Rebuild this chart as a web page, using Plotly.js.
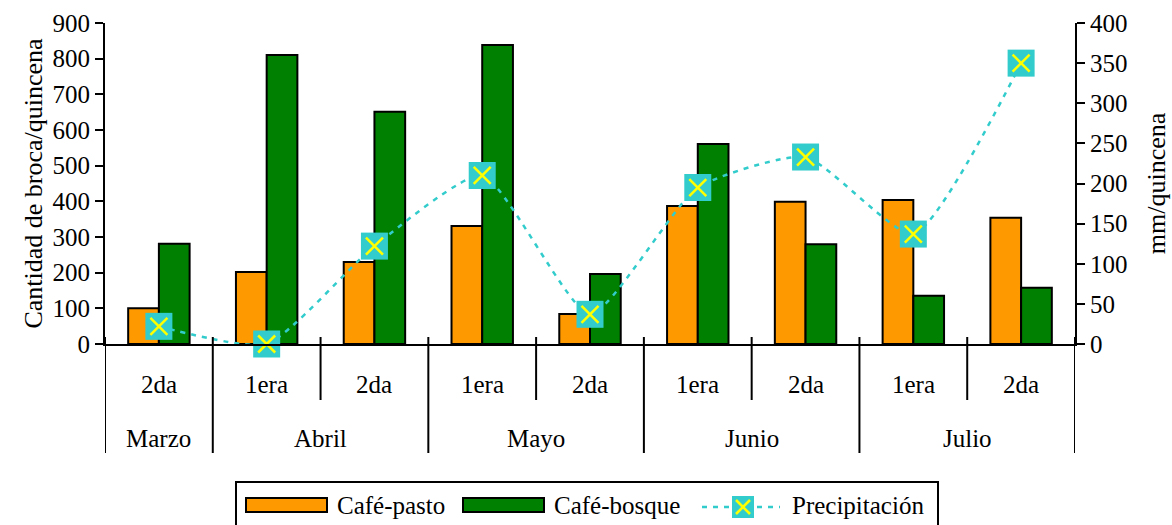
<!DOCTYPE html>
<html>
<head>
<meta charset="utf-8">
<script src="https://cdn.plot.ly/plotly-3.0.1.min.js"></script>
<style>html,body{margin:0;padding:0;background:#fff;}#chart{width:1172px;height:525px;}</style>
</head>
<body>
<div id="chart"></div>
<script>
const months = ["Marzo","Abril","Abril","Mayo","Mayo","Junio","Junio","Julio","Julio"];
const quincenas = ["2da","1era","2da","1era","2da","1era","2da","1era","2da"];
const cafePasto = [100, 202, 230, 331, 84, 387, 399, 404, 354];
const cafeBosque = [281, 810, 651, 838, 196, 561, 280, 135, 158];
const precipitacion = [22, 0, 122, 210, 37, 195, 233, 137, 350];
const leftTicks = [0,100,200,300,400,500,600,700,800,900];
const rightTicks = [0,50,100,150,200,250,300,350,400];
const seriesNames = ["Café-pasto","Café-bosque","Precipitación"];

const W = 1172, H = 525, ML = 105, MR = 97, MT = 23, MB = 181;
const PW = W - ML - MR, PH = H - MT - MB;
const px = v => (v - ML) / PW;          // pixel -> paper x
const py = v => (H - MB - v) / PH;      // pixel -> paper y

const idx = months.map((m,i)=>i);
const FONT = "Liberation Serif, Times New Roman, serif";
const ORANGE = '#FF9900', GREEN = '#008000', CYAN = '#33CCCC', YELLOW = '#FFFF00';

const traces = [
  {type:'bar', name:seriesNames[0], x:idx, y:cafePasto,
   marker:{color:ORANGE, line:{color:'#000', width:2}}},
  {type:'bar', name:seriesNames[1], x:idx, y:cafeBosque,
   marker:{color:GREEN, line:{color:'#000', width:2}}},
  {type:'scatter', mode:'lines+markers', name:seriesNames[2], x:idx, y:precipitacion, yaxis:'y2',
   line:{color:CYAN, width:2.5, dash:'5px,6px', shape:'spline', smoothing:0.55},
   marker:{symbol:'square', size:27, color:CYAN, line:{width:0}}, cliponaxis:false},
  {type:'scatter', mode:'markers', showlegend:false, x:idx, y:precipitacion, yaxis:'y2', hoverinfo:'skip',
   marker:{symbol:'x-thin', size:17, color:YELLOW, line:{color:YELLOW, width:2.5}}, cliponaxis:false}
];

const shapes = [];
const annotations = [];
const n = months.length;
// category dividers
for (let b = 0; b <= n; b++) {
  const xb = b - 0.5;
  const outer = (b === 0 || b === n || months[b] !== months[b-1]);
  shapes.push({type:'line', xref:'x', yref:'paper', x0:xb, x1:xb,
    y0: py(337), y1: outer ? py(453) : py(400), line:{color:'#000', width:2}});
}
quincenas.forEach((q,i)=>{
  annotations.push({xref:'x', yref:'paper', x:i, y:py(385), text:q, showarrow:false,
    yanchor:'middle', font:{family:FONT, size:25, color:'#000'}});
});
const seen = [];
months.forEach(m=>{ if(!seen.includes(m)) seen.push(m); });
seen.forEach(m=>{
  const ii = idx.filter(i=>months[i]===m);
  const c = ii.reduce((a,b)=>a+b,0)/ii.length;
  annotations.push({xref:'x', yref:'paper', x:c, y:py(438), text:m, showarrow:false,
    yanchor:'middle', font:{family:FONT, size:25, color:'#000'}});
});

// legend (drawn manually to match the reference look)
const P = {xref:'paper', yref:'paper'};
shapes.push(Object.assign({type:'rect', x0:px(236), x1:px(938), y0:py(482), y1:py(532),
  line:{color:'#000', width:2}, fillcolor:'rgba(0,0,0,0)'}, P));
shapes.push(Object.assign({type:'rect', x0:px(246), x1:px(327), y0:py(498), y1:py(512),
  line:{color:'#000', width:2}, fillcolor:ORANGE}, P));
shapes.push(Object.assign({type:'rect', x0:px(463), x1:px(544), y0:py(498), y1:py(512),
  line:{color:'#000', width:2}, fillcolor:GREEN}, P));
shapes.push(Object.assign({type:'line', x0:px(702), x1:px(780), y0:py(507), y1:py(507),
  line:{color:CYAN, width:2.5, dash:'5px,6px'}}, P));
shapes.push(Object.assign({type:'rect', x0:px(732), x1:px(754), y0:py(496), y1:py(518),
  line:{width:0}, fillcolor:CYAN}, P));
shapes.push(Object.assign({type:'line', x0:px(736), x1:px(750), y0:py(500), y1:py(514),
  line:{color:YELLOW, width:2.5}}, P));
shapes.push(Object.assign({type:'line', x0:px(736), x1:px(750), y0:py(514), y1:py(500),
  line:{color:YELLOW, width:2.5}}, P));
[[335,0],[552,1],[790,2]].forEach(([x,k])=>{
  annotations.push({xref:'paper', yref:'paper', x:px(x), y:py(506), xanchor:'left', yanchor:'middle',
    text:seriesNames[k], showarrow:false, font:{family:FONT, size:25, color:'#000'}});
});

const axisCommon = {showgrid:false, zeroline:false, fixedrange:true};
const layout = {
  width:W, height:H,
  margin:{l:ML, r:MR, t:MT, b:MB},
  paper_bgcolor:'#fff', plot_bgcolor:'#fff',
  font:{family:FONT, size:25, color:'#000'},
  barmode:'group', bargap:0.43, bargroupgap:0,
  showlegend:false,
  xaxis:Object.assign({range:[-0.5, n-0.5], showticklabels:false, ticks:'',
    showline:true, linecolor:'#000', linewidth:2}, axisCommon),
  yaxis:Object.assign({range:[0,900], tickvals:leftTicks, ticktext:leftTicks.map(String), ticks:'outside',
    ticklen:8, tickwidth:2, tickcolor:'#000', showline:true, linecolor:'#000', linewidth:2,
    tickfont:{family:FONT, size:25, color:'#000'},
    title:{text:'Cantidad de broca/quincena', font:{family:FONT, size:26, color:'#000'}, standoff:2}}, axisCommon),
  yaxis2:Object.assign({range:[0,400], tickvals:rightTicks, ticktext:rightTicks.map(String), overlaying:'y', side:'right',
    ticks:'outside', ticklen:8, tickwidth:2, tickcolor:'#000', showline:true, linecolor:'#000', linewidth:2,
    tickfont:{family:FONT, size:25, color:'#000'},
    title:{text:'mm/quincena', font:{family:FONT, size:26, color:'#000'}, standoff:20}}, axisCommon),
  yaxis3:Object.assign({range:[0,900], tickvals:leftTicks, overlaying:'y', side:'left', showticklabels:false,
    ticks:'inside', ticklen:7, tickwidth:2, tickcolor:'#000', showline:false}, axisCommon),
  yaxis4:Object.assign({range:[0,400], tickvals:rightTicks, overlaying:'y', side:'right', showticklabels:false,
    ticks:'inside', ticklen:7, tickwidth:2, tickcolor:'#000', showline:false}, axisCommon),
  shapes:shapes,
  annotations:annotations
};

Plotly.newPlot('chart', traces, layout, {displayModeBar:false, staticPlot:true});
</script>
</body>
</html>
